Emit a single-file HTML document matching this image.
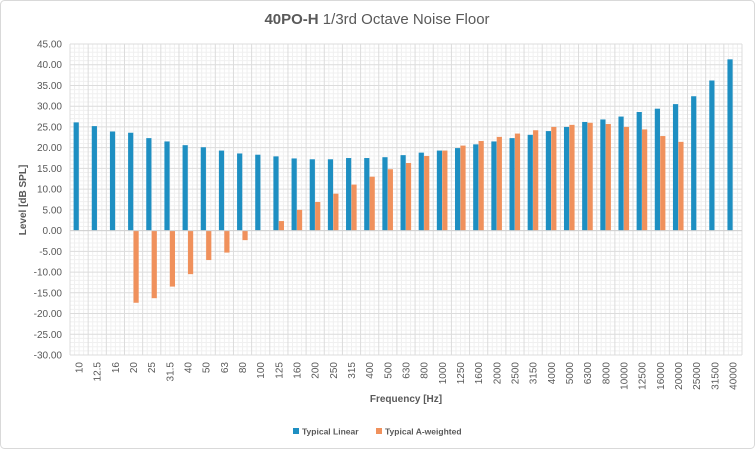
<!DOCTYPE html>
<html><head><meta charset="utf-8"><style>
html,body{margin:0;padding:0;background:#fff;}
svg{display:block;font-family:"Liberation Sans",sans-serif;}
</style></head><body>
<svg id="c" width="755" height="449" xmlns="http://www.w3.org/2000/svg"></svg>
<script>
const s=document.getElementById('c');
let h='<rect x="0.5" y="0.5" width="754" height="448" rx="4" fill="#fff" stroke="#d9d9d9"/>';
const L=70,R=742,T=44,B=355,vmin=-30,vmax=45;
const Y=v=>T+(vmax-v)/(vmax-vmin)*(B-T);
const cats=["10","12.5","16","20","25","31.5","40","50","63","80","100","125","160","200","250","315","400","500","630","800","1000","1250","1600","2000","2500","3150","4000","5000","6300","8000","10000","12500","16000","20000","25000","31500","40000"];
const lin=[26.1,25.2,23.9,23.6,22.3,21.5,20.6,20.1,19.3,18.6,18.3,17.9,17.4,17.2,17.2,17.5,17.5,17.7,18.2,18.8,19.3,19.9,20.8,21.5,22.3,23.1,24.0,25.0,26.2,26.8,27.5,28.6,29.4,30.5,32.4,36.2,41.3];
const aw=[null,null,null,-17.4,-16.3,-13.5,-10.5,-7.1,-5.3,-2.3,null,2.3,5.0,6.9,8.9,11.1,13.0,14.8,16.3,18.0,19.3,20.5,21.6,22.6,23.4,24.2,25.0,25.5,26.0,25.7,25.0,24.4,22.8,21.4,null,null,null];
const n=cats.length,cw=(R-L)/n;
// minor horizontal
for(let v=vmin;v<=vmax;v++){if(v%5)h+=`<line x1="${L}" x2="${R}" y1="${Y(v)}" y2="${Y(v)}" stroke="#f0f0f0" stroke-width="1"/>`;}
// minor vertical
for(let i=0;i<n;i++){for(let k=1;k<4;k++){const x=L+i*cw+k*cw/4;h+=`<line x1="${x}" x2="${x}" y1="${T}" y2="${B}" stroke="#f0f0f0"/>`;}}
for(let v=vmin;v<=vmax;v+=5){h+=`<line x1="${L}" x2="${R}" y1="${Y(v)}" y2="${Y(v)}" stroke="#dcdcdc"/>`;
h+=`<text x="62" y="${Y(v)+3.5}" font-size="10" fill="#595959" text-anchor="end">${v.toFixed(2)}</text>`;}
for(let i=0;i<=n;i++){const x=L+i*cw;h+=`<line x1="${x}" x2="${x}" y1="${T}" y2="${B}" stroke="#dcdcdc"/>`;}
for(let i=0;i<n;i++){const x0=L+i*cw;
 const v=lin[i];h+=`<rect x="${x0+3.6}" y="${Y(v)}" width="5.2" height="${Y(0)-Y(v)}" fill="#1e8fc2"/>`;
 const a=aw[i];if(a!==null){const y1=Math.min(Y(a),Y(0)),y2=Math.max(Y(a),Y(0));h+=`<rect x="${x0+9}" y="${y1}" width="5.2" height="${y2-y1}" fill="#f0915c"/>`;}
 const cx=x0+cw/2;h+=`<text transform="translate(${cx+3.5},362) rotate(-90)" font-size="10" fill="#595959" text-anchor="end">${cats[i]}</text>`;}
h+=`<line x1="${L}" x2="${R}" y1="${Y(0)}" y2="${Y(0)}" stroke="#d0d0d0"/>`;
h+=`<text x="377" y="24" font-size="15" fill="#595959" text-anchor="middle"><tspan font-weight="bold">40PO-H</tspan> 1/3rd Octave Noise Floor</text>`;
h+=`<text x="406" y="402" font-size="10" font-weight="bold" fill="#595959" text-anchor="middle">Frequency [Hz]</text>`;
h+=`<text transform="translate(26,200) rotate(-90)" font-size="10" font-weight="bold" fill="#595959" text-anchor="middle">Level [dB SPL]</text>`;
h+=`<rect x="293" y="428" width="6" height="6" fill="#1e8fc2"/><text x="302" y="434.5" font-size="8.5" font-weight="bold" fill="#595959">Typical Linear</text>`;
h+=`<rect x="376" y="428" width="6" height="6" fill="#f0915c"/><text x="385" y="434.5" font-size="8.5" font-weight="bold" fill="#595959">Typical A-weighted</text>`;
s.innerHTML=h;
</script>
</body></html>
